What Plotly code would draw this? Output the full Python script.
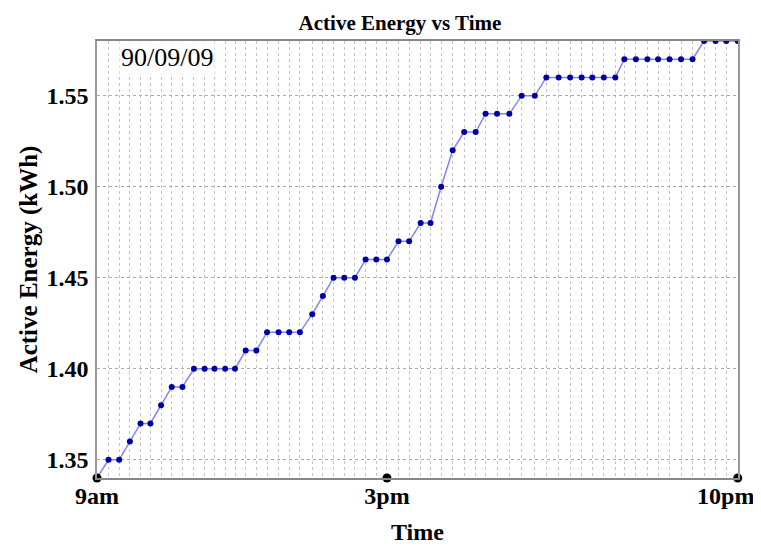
import plotly.graph_objects as go
import pandas as pd

# Reading times (9am .. 10pm) and active energy values (kWh)
times = ["09:00", "09:14", "09:27", "09:40", "09:53", "10:05", "10:18", "10:31", "10:44", "10:58",
         "11:11", "11:23", "11:36", "11:48", "12:01", "12:14", "12:27", "12:41", "12:54", "13:07",
         "13:22", "13:35", "13:48", "14:01", "14:14", "14:27", "14:40", "14:53", "15:07", "15:20",
         "15:34", "15:46", "15:59", "16:13", "16:27", "16:41", "16:53", "17:07", "17:22", "17:37",
         "17:53", "18:07", "18:22", "18:36", "18:50", "19:03", "19:17", "19:31", "19:42", "19:56",
         "20:10", "20:23", "20:37", "20:51", "21:05", "21:19", "21:33", "21:46", "22:00"]
energy = [1.34, 1.35, 1.35, 1.36, 1.37, 1.37, 1.38, 1.39, 1.39, 1.40,
          1.40, 1.40, 1.40, 1.40, 1.41, 1.41, 1.42, 1.42, 1.42, 1.42,
          1.43, 1.44, 1.45, 1.45, 1.45, 1.46, 1.46, 1.46, 1.47, 1.47,
          1.48, 1.48, 1.50, 1.52, 1.53, 1.53, 1.54, 1.54, 1.54, 1.55,
          1.55, 1.56, 1.56, 1.56, 1.56, 1.56, 1.56, 1.56, 1.57, 1.57,
          1.57, 1.57, 1.57, 1.57, 1.57, 1.58, 1.58, 1.58, 1.58]
tick_times = ["09:00", "14:53", "22:00"]
tick_labels = ["9am", "3pm", "10pm"]
date_label = "90/09/09"
y_min, y_max = 1.34, 1.58

day = "2009-09-09 "
x = pd.to_datetime([day + t for t in times])
tx = pd.to_datetime([day + t for t in tick_times])
x_start = pd.Timestamp(day + "09:00")
x_end = pd.Timestamp(day + "22:00") + pd.Timedelta(seconds=20)

FONT = "Liberation Serif"
W, H, OFF = 761, 546, 8   # page body has an 8px margin

# last label is nudged left so it stays inside the page
tick_text = ["<b>%s</b>" % t for t in tick_labels]
tick_text[-1] = tick_text[-1] + "&nbsp;&nbsp;&nbsp;&nbsp;"

fig = go.Figure()
fig.add_trace(go.Scatter(
    x=x, y=energy, mode="lines+markers",
    line=dict(color="rgba(100,100,245,0.8)", width=1.5),
    marker=dict(color="#0000a8", size=6),
    showlegend=False, hoverinfo="x+y"))
# black dots marking the labelled ticks on the time axis
fig.add_trace(go.Scatter(
    x=tx, y=[y_min] * len(tx), mode="markers",
    marker=dict(color="black", size=9), cliponaxis=False,
    showlegend=False, hoverinfo="skip"))

fig.update_layout(
    width=W - OFF, height=H - OFF,
    margin=dict(l=97 - OFF, r=23, t=41 - OFF, b=68),
    paper_bgcolor="white", plot_bgcolor="white",
    font=dict(family=FONT, color="black"),
    title=dict(text="<b>Active Energy vs Time</b>", x=(400 - OFF) / (W - OFF), xanchor="center",
               xref="container", yref="container",
               y=1 - (23 - OFF) / (H - OFF), yanchor="middle", font=dict(size=21, family=FONT),
               automargin=False),
    annotations=[dict(text=date_label, xref="paper", yref="paper", x=0.035, y=1.0,
                      xanchor="left", yanchor="top", showarrow=False, bgcolor="white",
                      borderpad=1,
                      font=dict(size=26, family=FONT, color="black"))],
)
fig.update_xaxes(
    type="date", automargin=False,
    range=[x_start, x_end],
    tickmode="array", tickvals=tx, ticktext=tick_text,
    tickfont=dict(size=24, family=FONT), ticks="", showgrid=False,
    ticklabeloverflow="allow", ticklabelstandoff=-5,
    minor=dict(tickmode="array", tickvals=x, showgrid=True, gridcolor="#c4c4c4",
               griddash="dot", gridwidth=1, ticks=""),
    showline=True, linecolor="#888", linewidth=1.5, mirror=True, zeroline=False,
    title=dict(text="<b>Time</b>", font=dict(size=24, family=FONT), standoff=16),
)
fig.update_yaxes(
    automargin=False,
    range=[y_min, y_max], tick0=1.35, dtick=0.05, tickformat=".2f",
    tickfont=dict(size=24, family=FONT), ticks="", ticklabelstandoff=2,
    showgrid=True, gridcolor="#aaaaaa", griddash="dot", gridwidth=1,
    showline=True, linecolor="#999", linewidth=1.5, mirror=True, zeroline=False,
    title=dict(text="<b>Active Energy (kWh)</b>", font=dict(size=25, family=FONT), standoff=2),
)
fig.update_yaxes(tickprefix="<b>", ticksuffix="</b>")

fig.write_html("out.html")
